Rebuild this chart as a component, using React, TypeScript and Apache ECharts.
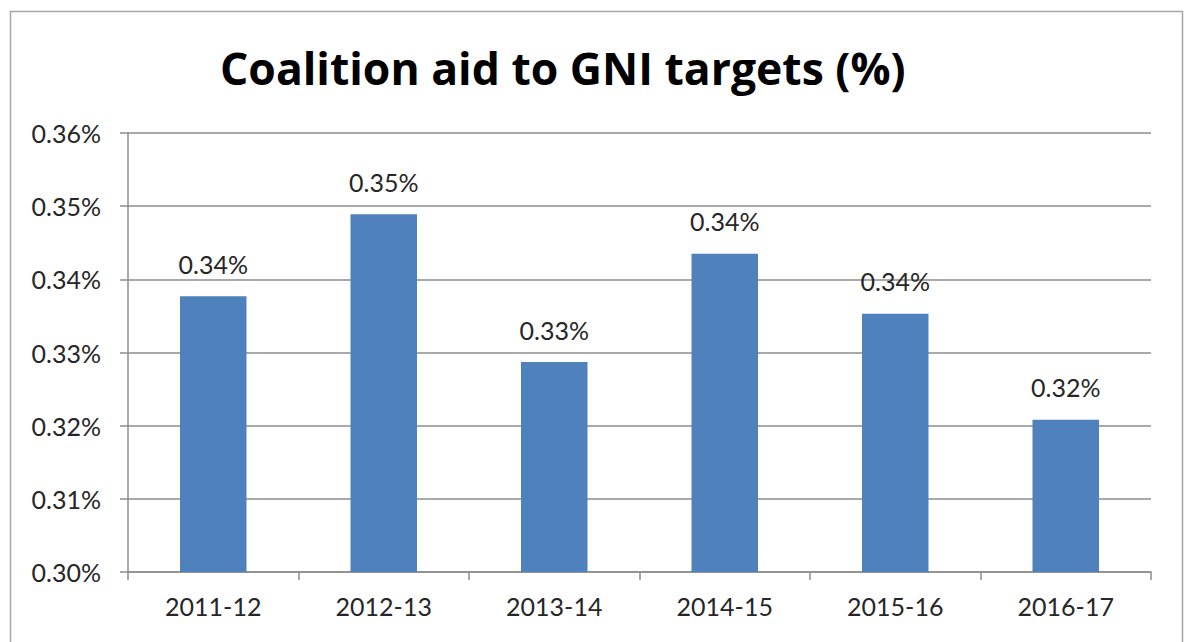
import React, { useEffect, useRef } from "react";
import * as echarts from "echarts";

const categories = ["2011-12", "2012-13", "2013-14", "2014-15", "2015-16", "2016-17"];
const values = [0.3377, 0.3489, 0.3287, 0.3435, 0.3353, 0.3208];
const titleText = "Coalition aid to GNI targets (%)";

export default function App() {
  const ref = useRef<HTMLDivElement>(null);
  useEffect(() => {
    if (!ref.current) return;
    const chart = echarts.init(ref.current, null, { renderer: "svg" });
    chart.setOption({
      animation: false,
      backgroundColor: "#ffffff",
      title: {
        text: titleText,
        left: 215,
        top: 40,
        textStyle: { fontFamily: "Open Sans", fontWeight: "bold", fontSize: 44.5, color: "#000" },
      },
      graphic: [
        {
          type: "rect",
          shape: { x: 10.5, y: 11.5, width: 1172, height: 640 },
          style: { fill: "none", stroke: "#a6a6a6", lineWidth: 1.5 },
          silent: true,
        },
      ],
      grid: { left: 128, right: 33, top: 133, bottom: 70 },
      xAxis: {
        type: "category",
        data: categories,
        axisLine: { lineStyle: { color: "#8c8c8c", width: 1.5 } },
        axisTick: { show: true, length: 8, lineStyle: { color: "#8c8c8c", width: 1.5 } },
        axisLabel: { fontFamily: "Lato", fontSize: 25, color: "#262626", margin: 21 },
      },
      yAxis: {
        type: "value",
        min: 0.3,
        max: 0.36,
        interval: 0.01,
        axisLine: { show: true, lineStyle: { color: "#8c8c8c", width: 1.5 } },
        axisTick: { show: true, length: 8, lineStyle: { color: "#8c8c8c", width: 1.5 } },
        splitLine: { lineStyle: { color: "#8c8c8c", width: 1.5 } },
        axisLabel: {
          fontFamily: "Lato",
          fontSize: 25,
          color: "#262626",
          margin: 27,
          formatter: (v: number) => v.toFixed(2) + "%",
        },
      },
      series: [
        {
          type: "bar",
          data: values,
          barWidth: "39%",
          itemStyle: { color: "#4F81BD" },
          label: {
            show: true,
            position: "top",
            distance: 20,
            fontFamily: "Lato",
            fontSize: 25,
            color: "#262626",
            formatter: (p: any) => (p.value as number).toFixed(2) + "%",
          },
        },
      ],
    });
    return () => chart.dispose();
  }, []);
  return (
    <div
      ref={ref}
      style={{ position: "fixed", left: 0, top: 0, width: 1184, height: 642 }}
    />
  );
}
